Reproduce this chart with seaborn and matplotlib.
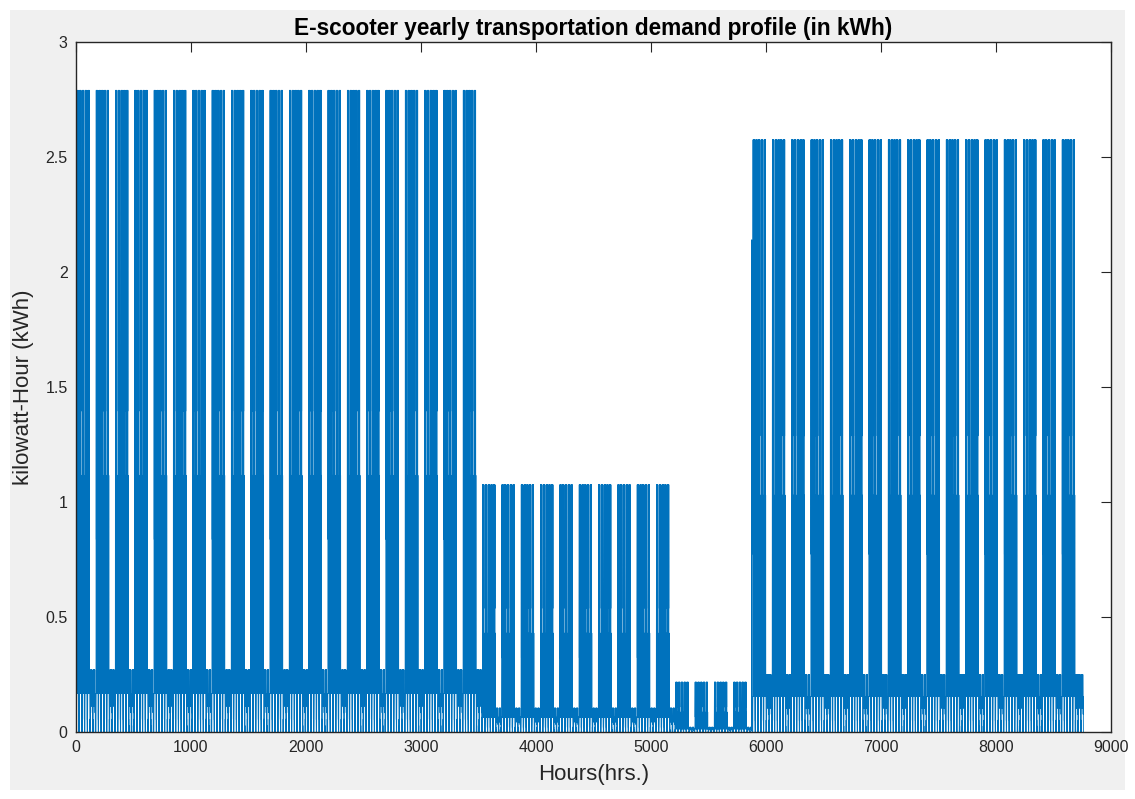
import numpy as np
import pandas as pd
import matplotlib
matplotlib.use('Agg')
import matplotlib.pyplot as plt
import seaborn as sns
from matplotlib.patches import Rectangle

# hourly shape of one day, as a fraction of the season's peak
weekday_profile = [0.02, 0.0, 0.06, 0.0, 0.03, 0.06, 0.5, 1.0, 0.3, 1.0, 0.06, 0.6,
                   1.0, 0.06, 0.8, 0.2, 1.0, 0.5, 1.0, 0.06, 0.4, 0.06, 0.09, 0.02]
weekend_profile = [0.0, 0.02, 0.0, 0.01, 0.0, 0.03, 0.06, 0.097, 0.06, 0.097, 0.04, 0.08,
                   0.06, 0.097, 0.06, 0.05, 0.097, 0.06, 0.097, 0.04, 0.06, 0.03, 0.06, 0.0]

# seasons start at these week numbers, with these weekday peaks (kWh)
season_first_week = [0, 21, 31, 35]
season_peak = [2.79, 1.075, 0.217, 2.575]

holidays = [364]
spike_hour = 5876
spike_value = 2.14

n_days = 365
demand = []
for d in range(n_days):
    week = d // 7
    s = max(i for i, w in enumerate(season_first_week) if week >= w)
    if d % 7 >= 5 or d in holidays:
        prof = weekend_profile
    else:
        prof = weekday_profile
    demand.extend(season_peak[s] * np.array(prof))
demand = np.array(demand)
demand[spike_hour - 1] = spike_value
hours = np.arange(1, len(demand) + 1)
df = pd.DataFrame({'Hours': hours, 'kWh': demand})

sns.set_style('white')
plt.rcParams['font.family'] = ['Liberation Sans', 'DejaVu Sans']

W, H = 1135, 799
fig = plt.figure(figsize=(W / 100, H / 100), dpi=100, facecolor='white')
fig.patches.append(Rectangle((10 / W, 9 / H), 1115 / W, 780 / H, transform=fig.transFigure,
                             facecolor='#f0f0f0', edgecolor='none', zorder=-5))
ax = fig.add_axes([76 / W, 1 - 732 / H, 1035 / W, 690 / H])

sns.lineplot(data=df, x='Hours', y='kWh', ax=ax, color='#0072BD', linewidth=0.6, estimator=None)

ax.set_xlim(0, 9000)
ax.set_ylim(0, 3)
ax.set_xticks(range(0, 9001, 1000))
ax.set_yticks(np.arange(0, 3.01, 0.5))
ax.set_yticklabels(['0', '0.5', '1', '1.5', '2', '2.5', '3'])
ax.tick_params(direction='in', length=7, top=True, right=True, labelsize=11.5,
               colors='#262626', width=0.8, pad=6)
for sp in ax.spines.values():
    sp.set_color('#262626')
    sp.set_linewidth(1.0)

ax.set_title('E-scooter yearly transportation demand profile (in kWh)',
             fontsize=16.3, fontweight='bold', color='black', pad=5)
ax.set_xlabel('Hours(hrs.)', fontsize=16, color='#262626', labelpad=6)
ax.set_ylabel('kilowatt-Hour (kWh)', fontsize=16, color='#262626', labelpad=8)

fig.savefig('out.png', dpi=100, facecolor=fig.get_facecolor())
